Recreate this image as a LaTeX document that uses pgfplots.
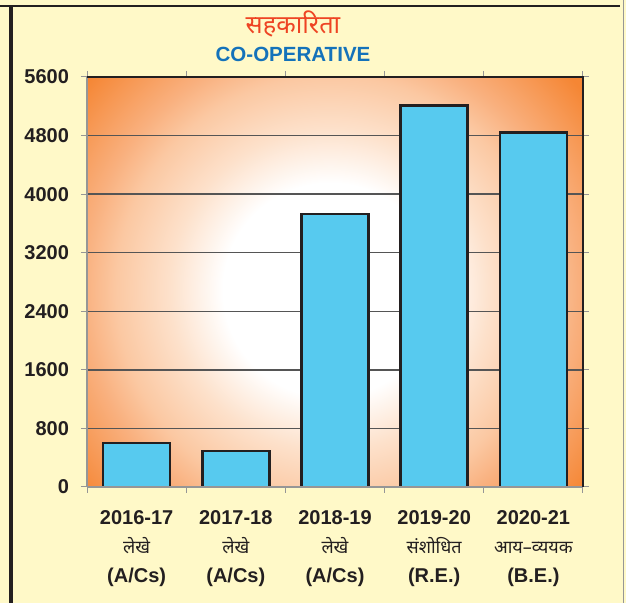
\documentclass[border=0pt]{standalone}
\usepackage{pgfplots}
\pgfplotsset{compat=1.18}
\usepackage{fontspec}
\setmainfont{Liberation Sans}
\newfontfamily\hifont[Script=Devanagari]{Noto Sans}

\definecolor{cream}{RGB}{255,249,200}
\definecolor{barblue}{RGB}{87,202,239}
\definecolor{gridgray}{RGB}{85,85,85}
\definecolor{tickgray}{RGB}{150,150,150}
\definecolor{titlered}{RGB}{238,68,35}
\definecolor{titleblue}{RGB}{20,114,186}
\definecolor{orng}{RGB}{245,134,52}
\definecolor{peachA}{RGB}{253,225,203}
\definecolor{peachB}{RGB}{251,200,162}
\definecolor{peachC}{RGB}{249,176,126}
\definecolor{txt}{RGB}{35,31,32}

% background glow of the plot area, natural size (1bp ~ 1pt)
\pgfdeclareradialshading{bgshade}{\pgfpointorigin}{%
  color(0bp)=(white); color(80bp)=(white); color(120bp)=(peachA);
  color(160bp)=(peachB); color(185bp)=(peachC); color(240bp)=(orng);
  color(260bp)=(orng)}

\begin{document}
\begin{tikzpicture}
\path[use as bounding box, fill=cream] (0pt,0pt) rectangle (469.5pt,452.25pt);
\begin{scope}
  \clip (65.25pt,87pt) rectangle (437.25pt,394.5pt);
  \node[inner sep=0pt] at (247.5pt,234.75pt) {\pgfuseshading{bgshade}};
\end{scope}
\begin{axis}[
  at={(65.25pt,87pt)}, anchor=south west,
  scale only axis, width=372pt, height=307.5pt,
  xmin=-0.5, xmax=4.5, ymin=0, ymax=5600,
  ybar, bar width=0.675,
  axis line style={draw=none},
  ytick={0,800,...,5600},
  xtick={0,1,2,3,4},
  minor xtick={-0.5,0.5,1.5,2.5,3.5,4.5},
  tick align=outside,
  major tick length=4.5pt, minor tick length=4.5pt,
  major x tick style={draw=none},
  minor x tick style={draw=tickgray, line width=0.75pt},
  ytick style={draw=tickgray, line width=0.75pt},
  ymajorgrids,
  major grid style={draw=gridgray, line width=1pt},
  /pgf/number format/1000 sep={},
  /pgf/number format/assume math mode=true,
  yticklabel style={font=\fontsize{15}{18}\selectfont\bfseries, text=txt, xshift=-5.5pt},
  xticklabel style={font=\fontsize{15}{21.75}\selectfont\bfseries, text=txt,
    align=center, yshift=-9.5pt},
  xticklabels={
    {2016-17\\{\hifont\mdseries\fontsize{13.5}{21.75}\selectfont लेखे}\\(A/Cs)},
    {2017-18\\{\hifont\mdseries\fontsize{13.5}{21.75}\selectfont लेखे}\\(A/Cs)},
    {2018-19\\{\hifont\mdseries\fontsize{13.5}{21.75}\selectfont लेखे}\\(A/Cs)},
    {2019-20\\{\hifont\mdseries\fontsize{13.5}{21.75}\selectfont संशोधित}\\(R.E.)},
    {2020-21\\{\hifont\mdseries\fontsize{13.5}{21.75}\selectfont आय–व्ययक}\\(B.E.)}
  },
]
\addplot[fill=barblue, draw=txt, line width=2pt]
  coordinates {(0,600) (1,490) (2,3730) (3,5210) (4,4840)};
\end{axis}
% frame of the plot area
\draw[tickgray, line width=1.5pt] (65.25pt,87pt) -- (65.25pt,395pt);
\draw[tickgray, line width=1.5pt] (65.25pt,87pt) -- (437.25pt,87pt);
\draw[txt, line width=1.9pt] (65.25pt,394.5pt) -- (437.25pt,394.5pt) -- (437.25pt,87pt);
% page rules
\draw[txt, line width=2.2pt] (0pt,447.75pt) -- (465pt,447.75pt);
\draw[txt, line width=2.7pt] (8.25pt,0pt) -- (8.25pt,447.75pt);
\draw[tickgray, line width=0.75pt] (467.25pt,0pt) -- (467.25pt,452.25pt);
% titles
\node[titlered, anchor=base, inner sep=0pt] at (219.75pt,426.75pt)
  {\hifont\fontsize{19}{22}\selectfont सहकारिता};
\node[titleblue, anchor=base, inner sep=0pt] at (219.75pt,406pt)
  {\fontsize{15.4}{18}\selectfont\bfseries CO-OPERATIVE};
\end{tikzpicture}
\end{document}
